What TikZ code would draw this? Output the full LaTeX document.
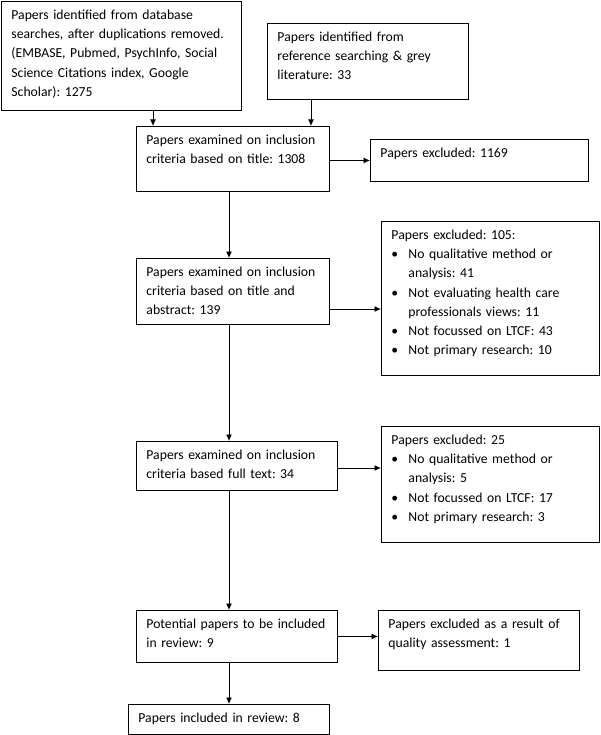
\documentclass[tikz,border=0pt]{standalone}
\usepackage{fontspec}
\setmainfont{Carlito}
\usetikzlibrary{arrows.meta}
\newcommand{\bitem}{\makebox[17pt][l]{\textbullet}}
\newcommand{\bcont}{\hspace*{17pt}}
\begin{document}
\begin{tikzpicture}[x=1pt,y=1pt,
  stage/.style={draw,line width=0.9pt,anchor=north west,align=left,inner xsep=10pt,inner ysep=4pt,text height=14pt,font=\fontsize{13.7}{19.2}\selectfont\frenchspacing},
  flow/.style={line width=0.9pt,-{Latex[length=6.5pt,width=6pt]}}]
  \useasboundingbox (0,0) rectangle (600,-735);
  % sources
  \node [stage,text width=220pt,text depth=87pt] (db) at (1,-1) {Papers identified from database\\searches, after duplications removed.\\(EMBASE, Pubmed, PsychInfo, Social\\Science Citations index, Google\\Scholar): 1275};
  \node [stage,text width=181pt,text depth=54pt] (grey) at (267,-23) {Papers identified from\\reference searching \& grey\\literature: 33};
  % screening stages
  \node [stage,text width=173pt,text depth=43pt] (title) at (136,-126) {Papers examined on inclusion\\criteria based on title: 1308};
  \node [stage,text width=198pt,text depth=20pt] (excl1) at (370,-139) {Papers excluded: 1169};
  \node [stage,text width=173pt,text depth=44pt] (abstr) at (136,-258) {Papers examined on inclusion\\criteria based on title and\\abstract: 139};
  \node [stage,text width=198pt,text depth=132pt] (excl2) at (381,-221) {Papers excluded: 105:\\\bitem No qualitative method or\\\bcont analysis: 41\\\bitem Not evaluating health care\\\bcont professionals views: 11\\\bitem Not focussed on LTCF: 43\\\bitem Not primary research: 10};
  \node [stage,text width=181pt,text depth=27pt] (fulltext) at (136,-441) {Papers examined on inclusion\\criteria based full text: 34};
  \node [stage,text width=198pt,text depth=94pt] (excl3) at (381,-426) {Papers excluded: 25\\\bitem No qualitative method or\\\bcont analysis: 5\\\bitem Not focussed on LTCF: 17\\\bitem Not primary research: 3};
  \node [stage,text width=181pt,text depth=30pt] (potential) at (136,-610) {Potential papers to be included\\in review: 9};
  \node [stage,text width=181pt,text depth=38pt] (excl4) at (378,-610) {Papers excluded as a result of\\quality assessment: 1};
  \node [stage,text width=181pt,text depth=8pt] (included) at (128,-704) {Papers included in review: 8};
  % connectors
  \draw [flow] ([xshift=152pt]db.south west) -- ([xshift=152pt]db.south west |- title.north);
  \draw [flow] ([xshift=44pt]grey.south west) -- ([xshift=44pt]grey.south west |- title.north);
  \draw [flow] (title.east |- excl1.west) -- (excl1.west);
  \draw [flow] ([xshift=93pt]title.south west) -- ([xshift=93pt]title.south west |- abstr.north);
  \draw [flow] ([yshift=-51pt]abstr.north east) -- ([yshift=-51pt]abstr.north east -| excl2.west);
  \draw [flow] ([xshift=93pt]abstr.south west) -- ([xshift=93pt]abstr.south west |- fulltext.north);
  \draw [flow] ([yshift=-27pt]fulltext.north east) -- ([yshift=-27pt]fulltext.north east -| excl3.west);
  \draw [flow] ([xshift=93pt]fulltext.south west) -- ([xshift=93pt]fulltext.south west |- potential.north);
  \draw [flow] (potential.east) -- (potential.east -| excl4.west);
  \draw [flow] ([xshift=93pt]potential.south west) -- ([xshift=93pt]potential.south west |- included.north);
\end{tikzpicture}
\end{document}
